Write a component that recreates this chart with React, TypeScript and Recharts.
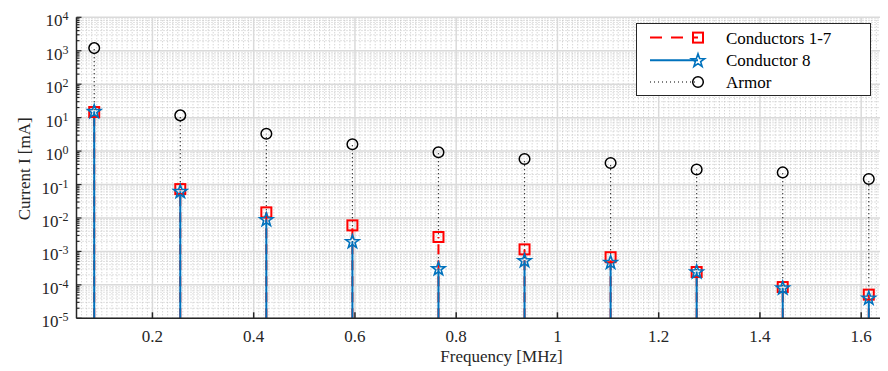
import React from "react";
import {
  ScatterChart,
  Scatter,
  XAxis,
  YAxis,
  CartesianGrid,
  ReferenceLine,
  Legend,
} from "recharts";

// stem positions (MHz) and currents (mA)
const FREQ_MHZ = [0.085, 0.255, 0.425, 0.595, 0.765, 0.935, 1.105, 1.275, 1.445, 1.615];
const COND_1_7 = [14.7, 0.073, 0.0147, 0.006, 0.0027, 0.00115, 0.00067, 0.000242, 0.000086, 0.000051];
const COND_8 = [15.5, 0.063, 0.0091, 0.002, 0.00031, 0.00054, 0.00048, 0.00025, 0.000082, 0.000041];
const ARMOR = [1200, 11.7, 3.3, 1.6, 0.92, 0.58, 0.44, 0.28, 0.23, 0.146];

const X_TICKS = [0.2, 0.4, 0.6, 0.8, 1, 1.2, 1.4, 1.6];
const Y_DECADES = [1e-5, 1e-4, 1e-3, 1e-2, 1e-1, 1, 1e1, 1e2, 1e3, 1e4];
const Y_MULTS = [2, 3, 4, 5, 6, 7, 8, 9];

const X_DOMAIN = [0.05, 1.65];
const Y_DOMAIN = [1e-5, 1e4];

const Y_MINOR: number[] = [];
Y_DECADES.slice(0, -1).forEach((d) => Y_MULTS.forEach((m) => Y_MINOR.push(m * d)));
const Y_ALL = [...Y_DECADES, ...Y_MINOR].sort((a, b) => a - b);

const X_MINOR: number[] = [];
for (let i = 6; i <= 164; i++) if (i % 20 !== 0) X_MINOR.push(i / 100);

const RED = "#ff0000";
const BLUE = "#0072bd";
const INK = "#262626";
const FONT = "'Liberation Serif', 'Times New Roman', serif";

const toPoints = (vals: number[]) => FREQ_MHZ.map((x, i) => ({ x, y: vals[i] }));
const cond17Data = toPoints(COND_1_7);
const cond8Data = toPoints(COND_8);
const armorData = toPoints(ARMOR);

const isDecade = (v: number) => Y_DECADES.some((d) => Math.abs(v / d - 1) < 1e-6);

const LEFT_MARGIN = 8;

const LeftTick = (props: any) => {
  const { x, y, payload } = props;
  const ax = x + LEFT_MARGIN;
  const major = isDecade(payload.value);
  const exp = Math.round(Math.log10(payload.value));
  return (
    <g>
      <line x1={ax} x2={ax + (major ? 5 : 3)} y1={y} y2={y} stroke={INK} strokeWidth={1.2} />
      {major && (
        <text x={x} y={y} textAnchor="end" fill={INK} fontFamily={FONT}>
          <tspan fontSize={17} dy={9}>10</tspan>
          <tspan fontSize={12} dy={-6}>{exp}</tspan>
        </text>
      )}
    </g>
  );
};

const RightTick = (props: any) => {
  const { x, y, payload } = props;
  const major = isDecade(payload.value);
  return <line x1={x} x2={x - (major ? 5 : 3)} y1={y} y2={y} stroke={INK} strokeWidth={1.2} />;
};

const starPoints = (cx: number, cy: number, R: number) => {
  const pts: string[] = [];
  for (let k = 0; k < 10; k++) {
    const r = k % 2 === 0 ? R : R * 0.4;
    const a = ((-90 + k * 36) * Math.PI) / 180;
    pts.push(`${cx + r * Math.cos(a)},${cy + r * Math.sin(a)}`);
  }
  return pts.join(" ");
};

const SquareMark = ({ cx, cy }: any) => (
  <rect x={cx - 5} y={cy - 5} width={10} height={10} fill="none" stroke={RED} strokeWidth={2} />
);
const StarMark = ({ cx, cy }: any) => (
  <polygon points={starPoints(cx, cy + 0.5, 7)} fill="none" stroke={BLUE} strokeWidth={1.6} />
);
const CircleMark = ({ cx, cy }: any) => (
  <circle cx={cx} cy={cy} r={5.3} fill="none" stroke="#000" strokeWidth={1.5} />
);

const LegendBox = () => {
  const rows = [
    { label: "Conductors 1-7", y: 14.6, color: RED, dash: "12 9", mark: "sq" },
    { label: "Conductor 8", y: 37.3, color: BLUE, dash: undefined, mark: "star" },
    { label: "Armor", y: 59, color: "#000", dash: "1 3", mark: "circ" },
  ];
  return (
    <svg width={236} height={74} style={{ display: "block" }}>
      <rect x={0.5} y={0.5} width={234} height={72} fill="#fff" stroke={INK} strokeWidth={1} />
      {rows.map((r) => (
        <g key={r.label}>
          <line
            x1={14}
            x2={62}
            y1={r.y}
            y2={r.y}
            stroke={r.color}
            strokeWidth={r.mark === "circ" ? 1.2 : 2}
            strokeDasharray={r.dash}
          />
          {r.mark === "sq" && <SquareMark cx={62} cy={r.y} />}
          {r.mark === "star" && <StarMark cx={62} cy={r.y} />}
          {r.mark === "circ" && <CircleMark cx={62} cy={r.y} />}
          <text x={90} y={r.y + 6} fontSize={17} fontFamily={FONT} fill="#000">
            {r.label}
          </text>
        </g>
      ))}
    </svg>
  );
};

export default function App() {
  return (
    <div style={{ width: 880, height: 363, fontFamily: FONT }}>
      <style>{`.recharts-wrapper text { font-family: ${FONT}; }`}</style>
      <ScatterChart
        width={880}
        height={363}
        margin={{ top: 9.3, right: 1.5, bottom: 7.7, left: 8.5 }}
      >
        <CartesianGrid
          xAxisId="b"
          yAxisId="l"
          horizontalValues={Y_MINOR}
          verticalValues={X_MINOR}
          stroke="#c4c4c4"
          strokeDasharray="1 2"
          strokeWidth={1}
        />
        <CartesianGrid
          xAxisId="b"
          yAxisId="l"
          horizontalValues={Y_DECADES}
          verticalValues={X_TICKS}
          stroke="#dadada"
          strokeWidth={1.5}
        />
        <XAxis
          xAxisId="b"
          dataKey="x"
          type="number"
          domain={X_DOMAIN}
          allowDataOverflow
          ticks={X_TICKS}
          interval={0}
          height={45}
          tickSize={-6}
          tickMargin={18}
          tick={{ fill: INK, fontSize: 17, fontFamily: FONT }}
          tickLine={{ stroke: INK, strokeWidth: 1.5 }}
          axisLine={{ stroke: INK, strokeWidth: 1.5 }}
          label={{
            value: "Frequency [MHz]",
            position: "insideBottom",
            offset: 1,
            dx: 20,
            fill: INK,
            fontSize: 17,
            fontFamily: FONT,
          }}
        />
        <XAxis
          xAxisId="t"
          orientation="top"
          type="number"
          domain={X_DOMAIN}
          allowDataOverflow
          ticks={X_TICKS}
          interval={0}
          height={0}
          tickSize={-6}
          tick={false}
          tickLine={{ stroke: INK, strokeWidth: 1.5 }}
          axisLine={{ stroke: INK, strokeWidth: 1.5 }}
        />
        <YAxis
          yAxisId="l"
          dataKey="y"
          type="number"
          scale="log"
          domain={Y_DOMAIN}
          allowDataOverflow
          ticks={Y_ALL}
          interval={0}
          width={60}
          tickSize={0}
          tickMargin={LEFT_MARGIN}
          tickLine={false}
          tick={<LeftTick />}
          axisLine={{ stroke: INK, strokeWidth: 1.5 }}
          label={(p: any) => {
            const vb = p.viewBox;
            const cx = vb.x + 8;
            const cy = vb.y + vb.height / 2 + 1;
            return (
              <text
                x={cx}
                y={cy}
                transform={`rotate(-90 ${cx} ${cy})`}
                textAnchor="middle"
                dominantBaseline="central"
                fontSize={17}
                fontFamily={FONT}
                fill={INK}
              >
                Current I [mA]
              </text>
            );
          }}
        />
        <YAxis
          yAxisId="r"
          orientation="right"
          type="number"
          scale="log"
          domain={Y_DOMAIN}
          allowDataOverflow
          ticks={Y_ALL}
          interval={0}
          width={0}
          tickSize={0}
          tickMargin={0}
          tickLine={false}
          tick={<RightTick />}
          axisLine={{ stroke: INK, strokeWidth: 1.5 }}
        />

        {armorData.map((p) => (
          <ReferenceLine
            key={`a-${p.x}`}
            xAxisId="b"
            yAxisId="l"
            ifOverflow="visible"
            segment={[{ x: p.x, y: Y_DOMAIN[0] }, { x: p.x, y: p.y }]}
            stroke="#000"
            strokeWidth={1.2}
            strokeDasharray="1 3"
          />
        ))}
        {cond17Data.map((p) => (
          <ReferenceLine
            key={`r-${p.x}`}
            xAxisId="b"
            yAxisId="l"
            ifOverflow="visible"
            segment={[{ x: p.x, y: Y_DOMAIN[0] }, { x: p.x, y: p.y }]}
            stroke={RED}
            strokeWidth={2}
            strokeDasharray="10 6"
          />
        ))}
        {cond8Data.map((p) => (
          <ReferenceLine
            key={`b-${p.x}`}
            xAxisId="b"
            yAxisId="l"
            ifOverflow="visible"
            segment={[{ x: p.x, y: Y_DOMAIN[0] }, { x: p.x, y: p.y }]}
            stroke={BLUE}
            strokeWidth={2}
          />
        ))}

        <Scatter
          name="Conductors 1-7"
          xAxisId="b"
          yAxisId="l"
          data={cond17Data}
          shape={SquareMark}
          isAnimationActive={false}
        />
        <Scatter
          name="Conductor 8"
          xAxisId="b"
          yAxisId="l"
          data={cond8Data}
          shape={StarMark}
          isAnimationActive={false}
        />
        <Scatter
          name="Armor"
          xAxisId="b"
          yAxisId="l"
          data={armorData}
          shape={CircleMark}
          isAnimationActive={false}
        />

        <Legend
          layout="vertical"
          align="center"
          verticalAlign="middle"
          wrapperStyle={{ top: 14.7, left: 628, width: 236, height: 74 }}
          content={() => <LegendBox />}
        />
      </ScatterChart>
    </div>
  );
}
